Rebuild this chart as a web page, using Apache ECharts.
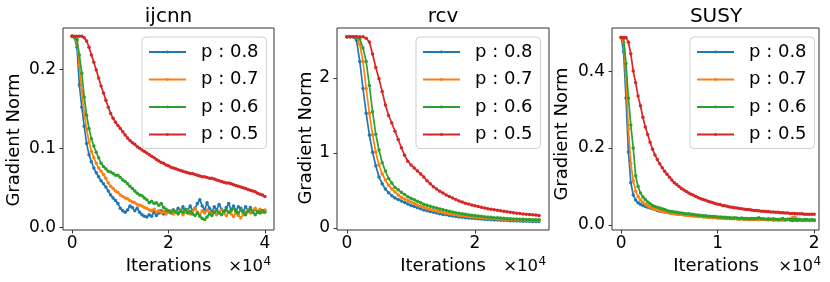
<!DOCTYPE html>
<html><head><meta charset="utf-8">
<script src="https://cdn.jsdelivr.net/npm/echarts@6/dist/echarts.min.js"></script>
<style>html,body{margin:0;padding:0;background:#fff}#c{width:830px;height:282px}</style>
</head><body><div id="c"></div>
<script>
// ---------------- data ----------------
const seriesNames = ['p : 0.8', 'p : 0.7', 'p : 0.6', 'p : 0.5'];
const panelTitles = ['ijcnn', 'rcv', 'SUSY'];
const yAxisTitle = 'Gradient Norm';
const xAxisTitle = 'Iterations';

// ijcnn
const ijcnnIter = [0,500,1000,1500,2000,2500,3000,3500,4000,4500,5000,5500,6000,6500,7000,7500,8000,8500,9000,9500,10000,10500,11000,11500,12000,12500,13000,13500,14000,14500,15000,15500,16000,16500,17000,17500,18000,18500,19000,19500,20000,20500,21000,21500,22000,22500,23000,23500,24000,24500,25000,25500,26000,26500,27000,27500,28000,28500,29000,29500,30000,30500,31000,31500,32000,32500,33000,33500,34000,34500,35000,35500,36000,36500,37000,37500,38000,38500,39000,39500,40000];
const ijcnnP08 = [.242,.240,.228,.180,.152,.128,.106,.092,.083,.075,.069,.064,.059,.055,.051,.046,.041,.037,.034,.030,.024,.021,.019,.022,.027,.025,.021,.024,.019,.016,.014,.013,.016,.014,.019,.015,.018,.021,.017,.019,.020,.018,.022,.019,.024,.020,.026,.019,.022,.027,.021,.024,.030,.035,.027,.022,.031,.024,.020,.026,.022,.029,.023,.020,.025,.030,.022,.027,.021,.026,.024,.020,.026,.022,.025,.021,.023,.019,.022,.020,.021];
const ijcnnP07 = [.242,.241,.236,.205,.172,.145,.124,.108,.096,.088,.081,.075,.071,.067,.062,.056,.052,.049,.046,.044,.041,.039,.037,.036,.034,.032,.031,.029,.028,.027,.025,.024,.022,.021,.023,.019,.021,.018,.020,.017,.019,.021,.017,.020,.018,.022,.016,.019,.021,.017,.020,.024,.019,.016,.021,.018,.022,.019,.017,.020,.016,.019,.022,.018,.015,.019,.017,.014,.018,.015,.012,.016,.019,.022,.018,.021,.024,.020,.023,.019,.022];
const ijcnnP06 = [.242,.241,.238,.218,.195,.165,.142,.125,.112,.103,.095,.088,.081,.077,.074,.071,.070,.068,.066,.066,.063,.060,.058,.055,.052,.049,.046,.043,.041,.040,.037,.035,.031,.033,.030,.031,.028,.030,.025,.023,.021,.019,.022,.020,.017,.021,.019,.023,.018,.020,.017,.015,.018,.014,.011,.010,.013,.017,.015,.019,.021,.018,.016,.020,.022,.019,.021,.024,.020,.018,.022,.019,.016,.020,.023,.019,.016,.020,.018,.021,.019];
const ijcnnP05 = [.242,.242,.242,.242,.242,.240,.236,.228,.218,.209,.199,.189,.179,.170,.161,.152,.144,.138,.133,.129,.125,.121,.117,.113,.110,.107,.105,.102,.100,.098,.096,.094,.092,.090,.088,.086,.084,.082,.081,.079,.078,.076,.075,.074,.073,.072,.071,.070,.069,.068,.068,.067,.066,.065,.064,.064,.063,.062,.062,.061,.060,.059,.058,.057,.056,.056,.055,.054,.053,.052,.051,.050,.049,.048,.047,.046,.045,.043,.042,.041,.039];

// rcv
const rcvIter = [0,500,1000,1500,2000,2500,3000,3500,4000,4500,5000,5500,6000,6500,7000,7500,8000,8500,9000,9500,10000,10500,11000,11500,12000,12500,13000,13500,14000,14500,15000,15500,16000,16500,17000,17500,18000,18500,19000,19500,20000,20500,21000,21500,22000,22500,23000,23500,24000,24500,25000,25500,26000,26500,27000,27500,28000,28500,29000,29500,30000];
const rcvP08 = [2.55,2.55,2.55,2.50,2.22,1.86,1.53,1.24,1.01,.83,.68,.59,.52,.47,.43,.40,.38,.36,.34,.32,.30,.285,.27,.255,.24,.23,.22,.21,.20,.19,.18,.175,.168,.16,.153,.148,.143,.138,.134,.130,.126,.122,.119,.116,.113,.110,.108,.106,.104,.102,.100,.098,.096,.094,.093,.091,.090,.089,.088,.087,.086];
const rcvP07 = [2.55,2.55,2.55,2.55,2.45,2.22,1.86,1.53,1.24,1.01,.84,.72,.64,.57,.52,.48,.44,.41,.385,.365,.345,.325,.305,.29,.275,.26,.248,.236,.225,.215,.206,.197,.189,.182,.175,.168,.162,.157,.152,.147,.143,.139,.135,.132,.129,.126,.123,.121,.118,.116,.114,.112,.110,.108,.107,.105,.104,.102,.101,.100,.099];
const rcvP06 = [2.55,2.55,2.55,2.55,2.52,2.40,2.22,1.90,1.55,1.25,1.04,.87,.76,.66,.60,.54,.51,.475,.445,.415,.395,.375,.355,.335,.318,.302,.29,.277,.265,.254,.243,.233,.222,.213,.204,.196,.189,.182,.176,.170,.165,.160,.155,.150,.146,.142,.138,.135,.132,.129,.126,.124,.121,.119,.117,.115,.113,.112,.111,.110,.109];
const rcvP05 = [2.55,2.55,2.55,2.55,2.55,2.55,2.53,2.48,2.32,2.14,1.99,1.82,1.64,1.50,1.40,1.29,1.18,1.07,.97,.89,.84,.80,.76,.72,.68,.63,.59,.55,.52,.49,.465,.44,.42,.40,.38,.36,.345,.33,.32,.305,.295,.285,.275,.265,.257,.25,.243,.236,.229,.222,.216,.21,.204,.198,.193,.188,.184,.18,.176,.172,.168];

// SUSY
const susyIter = [0,250,500,750,1000,1250,1500,1750,2000,2250,2500,2750,3000,3250,3500,3750,4000,4250,4500,4750,5000,5250,5500,5750,6000,6250,6500,6750,7000,7250,7500,7750,8000,8250,8500,8750,9000,9250,9500,9750,10000,10250,10500,10750,11000,11250,11500,11750,12000,12250,12500,12750,13000,13250,13500,13750,14000,14250,14500,14750,15000,15250,15500,15750,16000,16250,16500,16750,17000,17250,17500,17750,18000,18250,18500,18750,19000,19250,19500,19750,20000];
const susyP08 = [.487,.45,.33,.19,.11,.078,.065,.058,.054,.051,.048,.046,.044,.042,.040,.038,.036,.035,.034,.033,.032,.031,.030,.029,.028,.028,.027,.026,.026,.025,.025,.024,.023,.023,.022,.022,.021,.021,.020,.020,.019,.019,.018,.018,.018,.017,.017,.017,.016,.016,.016,.015,.016,.015,.015,.016,.015,.014,.015,.014,.014,.015,.014,.013,.014,.013,.014,.013,.013,.014,.013,.012,.013,.012,.013,.012,.012,.013,.012,.012,.012];
const susyP07 = [.487,.475,.38,.25,.16,.115,.088,.074,.065,.059,.054,.050,.046,.043,.041,.039,.037,.035,.034,.033,.031,.030,.029,.028,.027,.027,.026,.025,.025,.024,.023,.023,.022,.022,.021,.021,.020,.020,.019,.019,.018,.018,.018,.017,.017,.017,.016,.016,.016,.015,.016,.015,.015,.015,.014,.015,.014,.014,.015,.014,.014,.013,.014,.013,.013,.014,.013,.013,.013,.014,.016,.019,.021,.015,.013,.012,.013,.012,.012,.012,.012];
const susyP06 = [.487,.485,.42,.33,.26,.20,.128,.100,.083,.073,.066,.060,.055,.051,.048,.046,.044,.042,.040,.038,.036,.035,.034,.033,.032,.031,.030,.029,.029,.028,.027,.026,.026,.025,.024,.024,.023,.023,.022,.022,.021,.021,.020,.020,.019,.019,.018,.019,.018,.017,.018,.017,.017,.016,.017,.016,.017,.019,.016,.016,.015,.016,.015,.016,.015,.014,.015,.017,.014,.015,.014,.015,.014,.014,.015,.013,.014,.014,.013,.014,.013];
const susyP05 = [.487,.487,.487,.475,.445,.40,.37,.335,.31,.28,.255,.235,.215,.197,.182,.170,.159,.149,.140,.132,.124,.117,.110,.105,.100,.095,.091,.087,.083,.080,.077,.074,.071,.068,.066,.064,.062,.060,.058,.056,.054,.053,.051,.050,.049,.047,.046,.045,.044,.043,.042,.041,.040,.040,.039,.038,.038,.037,.036,.036,.035,.035,.034,.034,.033,.033,.032,.032,.031,.031,.030,.030,.030,.029,.029,.029,.028,.028,.028,.028,.028];

// tick values
const ijcnnXTicks = [0, 20000, 40000];
const rcvXTicks = [0, 20000];
const susyXTicks = [0, 10000, 20000];
const ijcnnYTicks = [0, 0.1, 0.2];
const rcvYTicks = [0, 1, 2];
const susyYTicks = [0, 0.2, 0.4];

// ---------------- layout / style ----------------
const F = 'DejaVu Sans';
const colors = ['#1f77b4', '#ff7f0e', '#2ca02c', '#d62728'];
const panels = [
  {x: ijcnnIter, ys: [ijcnnP08, ijcnnP07, ijcnnP06, ijcnnP05], xt: ijcnnXTicks, yt: ijcnnYTicks, yDec: 1,
   grid: {left: 63, top: 28, width: 211, height: 202}, xMin: -1900, xMax: 41900, yMin: -0.0034, yMax: 0.2523,
   legendLeft: 142, cx: 168.5, ylabX: 14, ylabY: 140, sciRight: 263},
  {x: rcvIter, ys: [rcvP08, rcvP07, rcvP06, rcvP05], xt: rcvXTicks, yt: rcvYTicks, yDec: 0,
   grid: {left: 337, top: 28, width: 212, height: 202}, xMin: -1560, xMax: 31560, yMin: -0.027, yMax: 2.667,
   legendLeft: 416, cx: 443, ylabX: 306, ylabY: 138, sciRight: 538},
  {x: susyIter, ys: [susyP08, susyP07, susyP06, susyP05], xt: susyXTicks, yt: susyYTicks, yDec: 1,
   grid: {left: 612, top: 28, width: 207, height: 202}, xMin: -950, xMax: 20500, yMin: -0.013, yMax: 0.512,
   legendLeft: 690, cx: 716, ylabX: 562, ylabY: 134, sciRight: 813}
];

const option = {
  animation: false,
  backgroundColor: '#fff',
  grid: [], xAxis: [], yAxis: [], series: [], legend: [], graphic: []
};

panels.forEach((p, i) => {
  option.grid.push(Object.assign({show: true, borderColor: '#333', borderWidth: 1, backgroundColor: 'transparent'}, p.grid));
  option.xAxis.push({
    gridIndex: i, type: 'value', min: p.xMin, max: p.xMax, position: 'bottom',
    axisLine: {show: false, onZero: false},
    axisTick: {show: true, customValues: p.xt, length: 3.5, lineStyle: {color: '#333', width: 1}},
    axisLabel: {customValues: p.xt, formatter: v => String(Math.round(v / 1e4)), fontSize: 17, fontFamily: F, color: '#000', margin: 5},
    splitLine: {show: false}
  });
  option.yAxis.push({
    gridIndex: i, type: 'value', min: p.yMin, max: p.yMax, position: 'left',
    axisLine: {show: false, onZero: false},
    axisTick: {show: true, customValues: p.yt, length: 3.5, lineStyle: {color: '#333', width: 1}},
    axisLabel: {customValues: p.yt, formatter: v => Number(v).toFixed(p.yDec), fontSize: 17, fontFamily: F, color: '#000', margin: 7},
    splitLine: {show: false}
  });
  p.ys.forEach((ys, k) => {
    option.series.push({
      type: 'line', name: seriesNames[k], xAxisIndex: i, yAxisIndex: i,
      data: p.x.map((xv, j) => [xv, ys[j]]),
      symbol: 'circle', symbolSize: 3.5, showSymbol: true,
      lineStyle: {width: 1.7, color: colors[k]}, itemStyle: {color: colors[k]},
      emphasis: {disabled: true}, z: 2 + k
    });
  });
  option.legend.push({
    orient: 'vertical', left: p.legendLeft, top: 37, padding: [5, 8, 4, 6], itemGap: 7.5,
    itemWidth: 37, itemHeight: 3.5, selectedMode: false,
    backgroundColor: 'rgba(255,255,255,0.85)', borderColor: '#d0d0d0', borderWidth: 1, borderRadius: 4,
    textStyle: {fontSize: 18, fontFamily: F, color: '#000', lineHeight: 20, padding: [0, 0, 0, 10]},
    data: seriesNames
  });
  const g = option.graphic;
  g.push({type: 'text', x: p.cx, y: 17, style: {text: panelTitles[i], font: '20px "DejaVu Sans"', fill: '#000', align: 'center', verticalAlign: 'middle', textAlign: 'center', textVerticalAlign: 'middle'}});
  g.push({type: 'text', x: p.cx, y: 266, style: {text: xAxisTitle, font: '18px "DejaVu Sans"', fill: '#000', align: 'center', verticalAlign: 'middle', textAlign: 'center', textVerticalAlign: 'middle'}});
  g.push({type: 'text', x: p.sciRight, y: 267, style: {text: '×10', font: '16.5px "DejaVu Sans"', fill: '#000', align: 'right', verticalAlign: 'middle', textAlign: 'right', textVerticalAlign: 'middle'}});
  g.push({type: 'text', x: p.sciRight + 0.5, y: 262, style: {text: '4', font: '12px "DejaVu Sans"', fill: '#000', align: 'left', verticalAlign: 'middle', textAlign: 'left', textVerticalAlign: 'middle'}});
  g.push({type: 'text', x: p.ylabX, y: p.ylabY, rotation: Math.PI / 2, style: {text: yAxisTitle, font: '18px "DejaVu Sans"', fill: '#000', align: 'center', verticalAlign: 'middle', textAlign: 'center', textVerticalAlign: 'middle'}});
});

const chart = echarts.init(document.getElementById('c'), null, {renderer: 'canvas'});
chart.setOption(option);
</script>
</body></html>
